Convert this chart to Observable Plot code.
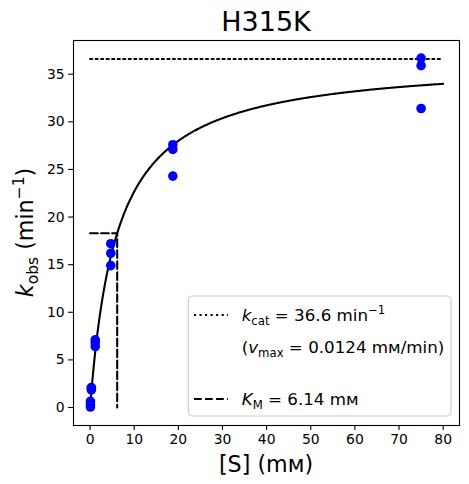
<!DOCTYPE html>
<html>
<head>
<meta charset="utf-8">
<script src="https://cdn.jsdelivr.net/npm/d3@7"></script>
<script src="https://cdn.jsdelivr.net/npm/@observablehq/plot@0.6"></script>
<style>
  html, body { margin: 0; padding: 0; background: white; }
  svg { display: block; }
</style>
</head>
<body>
<div id="chart"></div>
<script>
// ---- data ----
const title = "H315K";
const substrate = [0.073, 0.073, 0.073, 0.29, 0.29, 0.29, 1.17, 1.17, 1.17, 4.69, 4.69, 4.69, 18.75, 18.75, 18.75, 75, 75, 75];
const kobs = [0.65, 0.3, 0.05, 2.1, 2.0, 1.85, 7.1, 6.8, 6.4, 17.2, 16.2, 14.9, 27.6, 27.1, 24.3, 36.7, 35.9, 31.4];
const kcat = 36.6;
const KM = 6.14;
const vmax = 0.0124;
const xTicks = [0, 10, 20, 30, 40, 50, 60, 70, 80];
const yTicks = [0, 5, 10, 15, 20, 25, 30, 35];
const sMax = 80;

// ---- derived tables ----
const points = substrate.map((s, i) => ({s, k: kobs[i]}));
const curve = d3.range(0, sMax + 0.001, 0.2).map(s => ({s, k: kcat * s / (KM + s)}));
const kcatLine = [{s: 0, k: kcat}, {s: sMax, k: kcat}];
const kmLine = [{s: 0, k: kcat / 2}, {s: KM, k: kcat / 2}, {s: KM, k: 0}];

const W = 469, H = 484;
const mL = 73, mR = 10, mT = 40, mB = 59;
const LW = 2.08;
const DOT = "2.08,3.44";
const DASH = "7.7,3.33";

const svg = Plot.plot({
  width: W, height: H,
  marginLeft: mL, marginRight: mR, marginTop: mT, marginBottom: mB,
  style: {fontFamily: "DejaVu Sans", background: "white", color: "black", overflow: "visible"},
  x: {domain: [-3.76, 83.7]},
  y: {domain: [-1.89, 38.54]},
  marks: [
    Plot.axisX({ticks: xTicks, tickSize: 4.9, tickPadding: 4, fontSize: 13.9, label: null, strokeWidth: 1.1}),
    Plot.axisY({ticks: yTicks, tickSize: 4.9, tickPadding: 4, fontSize: 13.9, label: null, strokeWidth: 1.1}),
    Plot.line(kcatLine, {x: "s", y: "k", stroke: "black", strokeWidth: LW, strokeDasharray: DOT}),
    Plot.line(kmLine, {x: "s", y: "k", stroke: "black", strokeWidth: LW, strokeDasharray: DASH}),
    Plot.line(curve, {x: "s", y: "k", stroke: "black", strokeWidth: LW}),
    Plot.dot(points, {x: "s", y: "k", r: 4.8, fill: "blue", stroke: "none"}),
    Plot.frame({stroke: "black", strokeWidth: 1.1})
  ]
});

const root = d3.select(svg);
const FONT = "DejaVu Sans";

// title
root.append("text")
  .attr("x", (mL + W - mR) / 2).attr("y", 30.7)
  .attr("text-anchor", "middle")
  .attr("font-family", FONT).attr("font-size", 27).attr("fill", "black")
  .text(title);

// x label
root.append("text")
  .attr("x", (mL + W - mR) / 2).attr("y", 472)
  .attr("text-anchor", "middle")
  .attr("font-family", FONT).attr("font-size", 22.2).attr("fill", "black")
  .text("[S] (mᴍ)");

// y label
const yl = root.append("text")
  .attr("transform", `translate(33,${(mT + H - mB) / 2}) rotate(-90)`)
  .attr("text-anchor", "middle")
  .attr("font-family", FONT).attr("font-size", 22.2).attr("fill", "black");
yl.append("tspan").attr("font-style", "italic").text("k");
yl.append("tspan").attr("font-size", 15.5).attr("dy", 5).text("obs");
yl.append("tspan").attr("dy", -5).text(" (min");
yl.append("tspan").attr("font-size", 15.5).attr("dy", -9).text("−1");
yl.append("tspan").attr("dy", 9).text(")");

// legend
const lg = root.append("g").attr("text-anchor", "start");
lg.append("rect")
  .attr("x", 188.3).attr("y", 296).attr("width", 451 - 188.3).attr("height", 416 - 296)
  .attr("rx", 4).attr("ry", 4)
  .attr("fill", "white").attr("fill-opacity", 0.8)
  .attr("stroke", "#cccccc").attr("stroke-width", 1.1);
lg.append("line").attr("x1", 194).attr("x2", 228).attr("y1", 315).attr("y2", 315)
  .attr("stroke", "black").attr("stroke-width", LW).attr("stroke-dasharray", DOT);
lg.append("line").attr("x1", 194).attr("x2", 228).attr("y1", 399).attr("y2", 399)
  .attr("stroke", "black").attr("stroke-width", LW).attr("stroke-dasharray", DASH);

const LF = 16.7, SF = 11.7;
const t1 = lg.append("text").attr("x", 241.7).attr("y", 321).attr("text-anchor", "start")
  .attr("font-family", FONT).attr("font-size", LF).attr("fill", "black");
t1.append("tspan").attr("font-style", "italic").text("k");
t1.append("tspan").attr("font-size", SF).attr("dy", 4).text("cat");
t1.append("tspan").attr("dy", -4).text(" = " + kcat.toFixed(1) + " min");
t1.append("tspan").attr("font-size", SF).attr("dy", -7).text("−1");

const t2 = lg.append("text").attr("x", 241.7).attr("y", 352.8).attr("text-anchor", "start")
  .attr("font-family", FONT).attr("font-size", LF).attr("fill", "black");
t2.append("tspan").text("(");
t2.append("tspan").attr("font-style", "italic").text("v");
t2.append("tspan").attr("font-size", SF).attr("dy", 4).text("max");
t2.append("tspan").attr("dy", -4).text(" = " + vmax.toFixed(4) + " mᴍ/min)");

const t3 = lg.append("text").attr("x", 241.7).attr("y", 405.4).attr("text-anchor", "start")
  .attr("font-family", FONT).attr("font-size", LF).attr("fill", "black");
t3.append("tspan").attr("font-style", "italic").text("K");
t3.append("tspan").attr("font-size", SF).attr("dy", 4).text("M");
t3.append("tspan").attr("dy", -4).text(" = " + KM.toFixed(2) + " mᴍ");

document.getElementById("chart").appendChild(svg);
</script>
</body>
</html>
